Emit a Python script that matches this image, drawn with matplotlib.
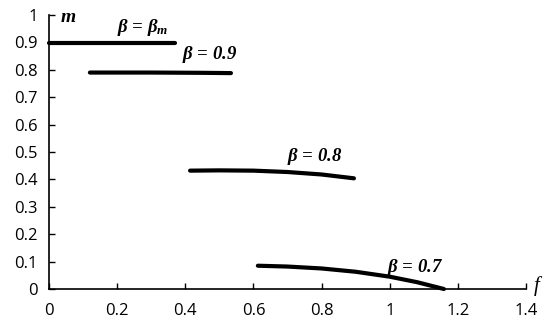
import matplotlib.pyplot as plt

# curve data (f, m)
f_bm = [0.0, 0.37]
m_bm = [0.897, 0.897]

f_09 = [0.12, 0.30, 0.45, 0.534]
m_09 = [0.79, 0.79, 0.789, 0.788]

f_08 = [0.414, 0.50, 0.60, 0.70, 0.80, 0.895]
m_08 = [0.432, 0.433, 0.432, 0.427, 0.418, 0.404]

f_07 = [0.613, 0.70, 0.80, 0.90, 1.00, 1.08, 1.159]
m_07 = [0.085, 0.082, 0.075, 0.063, 0.045, 0.025, 0.0]

labels = [r"$\beta$ = $\beta_m$", r"$\beta$ = 0.9", r"$\beta$ = 0.8", r"$\beta$ = 0.7"]
label_pos = [(0.276, 0.955), (0.473, 0.857), (0.78, 0.483), (1.074, 0.08)]

x_ticks = [0, 0.2, 0.4, 0.6, 0.8, 1, 1.2, 1.4]
y_ticks = [0, 0.1, 0.2, 0.3, 0.4, 0.5, 0.6, 0.7, 0.8, 0.9, 1]

plt.rcParams["mathtext.fontset"] = "custom"
plt.rcParams["mathtext.it"] = "Liberation Serif:italic:bold"
plt.rcParams["mathtext.rm"] = "Liberation Serif:italic:bold"

fig = plt.figure(figsize=(5.5, 3.3), dpi=100)
ax = fig.add_axes([0.0891, 0.1242, 0.8673, 0.8303])

for f, m in [(f_bm, m_bm), (f_09, m_09), (f_08, m_08), (f_07, m_07)]:
    ax.plot(f, m, color="black", lw=3, solid_capstyle="round", clip_on=False)

for text, (x, y) in zip(labels, label_pos):
    ax.text(x, y, text, ha="center", va="center", fontsize=13.5,
            family="Liberation Serif", style="italic", weight="bold")

ax.set_xlim(0, 1.4)
ax.set_ylim(0, 1)
ax.set_xticks(x_ticks)
ax.set_yticks(y_ticks)
ax.set_xticklabels([f"{t:g}" for t in x_ticks])
ax.set_yticklabels([f"{t:g}" for t in y_ticks])
ax.tick_params(direction="in", length=4, width=1, labelsize=12)
ax.tick_params(axis="x", pad=10)
ax.tick_params(axis="y", pad=8)
for lab in ax.get_xticklabels() + ax.get_yticklabels():
    lab.set_family("Open Sans")

for s in ["top", "right"]:
    ax.spines[s].set_visible(False)
for s in ["left", "bottom"]:
    ax.spines[s].set_linewidth(1.2)

ax.text(0.055, 0.99, "m", fontsize=14, family="Liberation Serif",
        style="italic", weight="bold", ha="center", va="center")
ax.text(1.43, 0.01, "f", fontsize=15, family="Liberation Serif",
        style="italic", ha="center", va="center", clip_on=False)

fig.savefig("out.png", dpi=100)
